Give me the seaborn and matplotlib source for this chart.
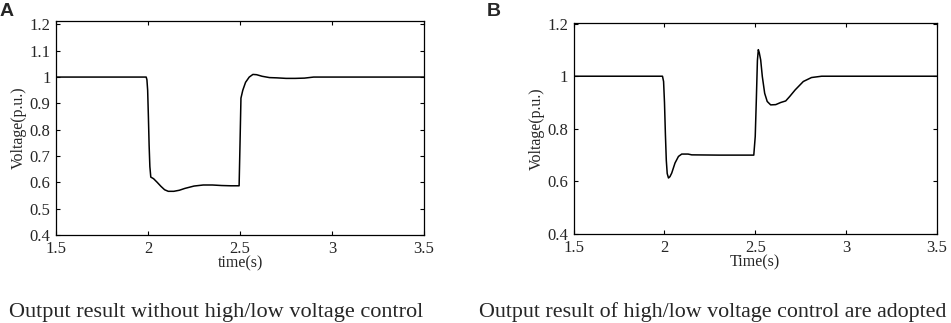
import seaborn as sns
import matplotlib.pyplot as plt
import pandas as pd

# 전압 파형 (A: 제어 없음)
time_a = [1.5, 1.99, 1.994, 1.998, 2.002, 2.006, 2.01, 2.015, 2.03, 2.05, 2.07, 2.09,
          2.11, 2.14, 2.17, 2.2, 2.25, 2.3, 2.35, 2.4, 2.45, 2.495, 2.5, 2.505,
          2.515, 2.53, 2.55, 2.57, 2.59, 2.62, 2.66, 2.7, 2.75, 2.8, 2.85, 2.9, 3.5]
volt_a = [1.0, 1.0, 0.99, 0.95, 0.85, 0.74, 0.66, 0.62, 0.614, 0.6, 0.585, 0.572,
          0.566, 0.566, 0.57, 0.577, 0.586, 0.59, 0.59, 0.588, 0.587, 0.587, 0.75, 0.92,
          0.95, 0.98, 1.0, 1.01, 1.009, 1.003, 0.998, 0.997, 0.995, 0.995, 0.996, 1.0, 1.0]

# 전압 파형 (B: 고/저전압 제어 적용)
time_b = [1.5, 1.989, 1.995, 2.0, 2.005, 2.01, 2.015, 2.022, 2.03, 2.04, 2.058, 2.077,
          2.095, 2.13, 2.15, 2.3, 2.492, 2.5, 2.506, 2.512, 2.517, 2.522, 2.53, 2.539,
          2.552, 2.566, 2.585, 2.613, 2.64, 2.668, 2.69, 2.72, 2.765, 2.81, 2.866, 3.5]
volt_b = [1.0, 1.0, 0.98, 0.9, 0.78, 0.68, 0.63, 0.613, 0.618, 0.632, 0.67, 0.695,
          0.704, 0.704, 0.701, 0.7, 0.7, 0.771, 0.91, 1.06, 1.101, 1.09, 1.062, 0.999,
          0.935, 0.904, 0.891, 0.892, 0.9, 0.906, 0.923, 0.948, 0.98, 0.995, 1.0, 1.0]

yticks_a = [0.4, 0.5, 0.6, 0.7, 0.8, 0.9, 1.0, 1.1, 1.2]
ytick_labels_a = ['0.4', '0.5', '0.6', '0.7', '0.8', '0.9', '1', '1.1', '1.2']
yticks_b = [0.4, 0.6, 0.8, 1.0, 1.2]
ytick_labels_b = ['0.4', '0.6', '0.8', '1', '1.2']
xticks = [1.5, 2.0, 2.5, 3.0, 3.5]
xtick_labels = ['1.5', '2', '2.5', '3', '3.5']

df_a = pd.DataFrame({'t': time_a, 'v': volt_a})
df_b = pd.DataFrame({'t': time_b, 'v': volt_b})

sns.set_theme(style="ticks")
plt.rcParams['font.family'] = ['Liberation Serif', 'DejaVu Serif']
plt.rcParams['xtick.direction'] = 'in'
plt.rcParams['ytick.direction'] = 'in'
plt.rcParams['xtick.top'] = True
plt.rcParams['ytick.right'] = True

fig = plt.figure(figsize=(9.51, 3.23), dpi=100)
ax_a = fig.add_axes([0.0589, 0.2724, 0.387, 0.6626])
ax_b = fig.add_axes([0.6033, 0.2755, 0.3817, 0.653])

panels = [
    (ax_a, df_a, yticks_a, ytick_labels_a, 1.213, 'time(s)'),
    (ax_b, df_b, yticks_b, ytick_labels_b, 1.202, 'Time(s)'),
]
for ax, df, yt, ytl, ytop, xlab in panels:
    sns.lineplot(data=df, x='t', y='v', ax=ax, color='black', linewidth=1.1)
    ax.set_xlim(1.5, 3.5)
    ax.set_ylim(0.4, ytop)
    ax.set_xticks(xticks)
    ax.set_xticklabels(xtick_labels)
    ax.set_yticks(yt)
    ax.set_yticklabels(ytl)
    ax.tick_params(labelsize=12, length=3, width=0.8, color='black')
    ax.tick_params(axis='x', pad=4)
    ax.tick_params(axis='y', pad=4)
    ax.set_xlabel(xlab, fontsize=11.5, labelpad=-1)
    ax.set_ylabel('Voltage(p.u.)', fontsize=11.5, labelpad=2)
    for s in ax.spines.values():
        s.set_linewidth(0.9)
        s.set_color('black')

fig.text(0.0, 0.965, 'A', fontsize=14, fontweight='bold', family='Liberation Sans', va='center')
fig.text(0.512, 0.965, 'B', fontsize=14, fontweight='bold', family='Liberation Sans', va='center')
fig.text(0.2275, 0.034, 'Output result without high/low voltage control', fontsize=16, ha='center', va='center')
fig.text(0.7495, 0.034, 'Output result of high/low voltage control are adopted', fontsize=15.8, ha='center', va='center')

plt.savefig('out.png', dpi=100)
